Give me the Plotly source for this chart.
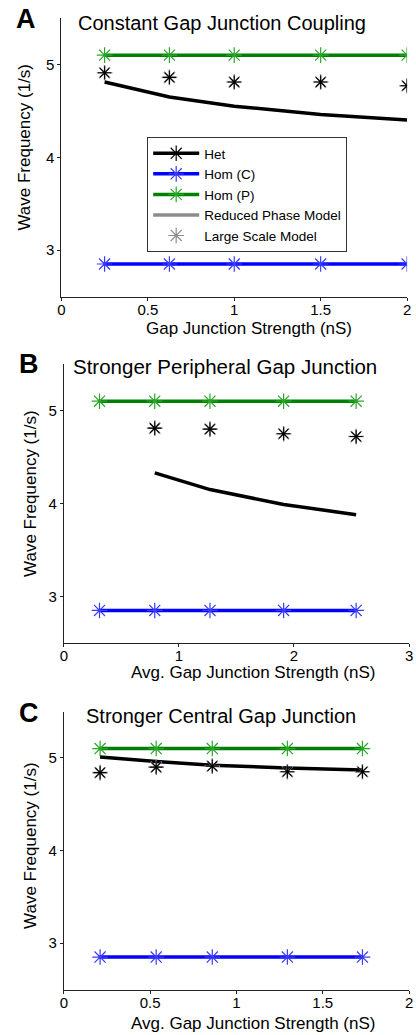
import plotly.graph_objects as go

# ---------------- data ----------------
# Panel A: constant gap junction coupling
xA = [0.25, 0.625, 1.0, 1.5, 2.0]
homC_A = [2.85, 2.85, 2.85, 2.85, 2.85]
homP_A = [5.10, 5.10, 5.10, 5.10, 5.10]
hetRed_A = [4.81, 4.65, 4.55, 4.46, 4.40]
hetLarge_A = [4.91, 4.86, 4.81, 4.81, 4.77]

# Panel B: stronger peripheral gap junction
xB = [0.31, 0.79, 1.27, 1.91, 2.54]
homC_B = [2.85, 2.85, 2.85, 2.85, 2.85]
homP_B = [5.10, 5.10, 5.10, 5.10, 5.10]
xB_het = [0.79, 1.27, 1.91, 2.54]
hetRed_B = [4.33, 4.15, 3.99, 3.88]
hetLarge_B = [4.81, 4.80, 4.75, 4.72]

# Panel C: stronger central gap junction
xC = [0.21, 0.535, 0.86, 1.295, 1.73]
homC_C = [2.85, 2.85, 2.85, 2.85, 2.85]
homP_C = [5.10, 5.10, 5.10, 5.10, 5.10]
hetRed_C = [5.01, 4.96, 4.92, 4.89, 4.87]
hetLarge_C = [4.84, 4.90, 4.91, 4.85, 4.85]

xticksA = [0, 0.5, 1, 1.5, 2]
xticksB = [0, 1, 2, 3]
xticksC = [0, 0.5, 1, 1.5, 2]
yticks = [3, 4, 5]

titles = ["Constant Gap Junction Coupling",
          "Stronger Peripheral Gap Junction",
          "Stronger Central Gap Junction"]
letters = ["A", "B", "C"]
xlabels = ["Gap Junction Strength (nS)",
           "Avg. Gap Junction Strength (nS)",
           "Avg. Gap Junction Strength (nS)"]
ylabel = "Wave Frequency (1/s)"
legend_names = ["Het", "Hom (C)", "Hom (P)", "Reduced Phase Model", "Large Scale Model"]

# ---------------- style ----------------
W, H = 416, 1035
FONT = "Liberation Sans, Arial, Helvetica, sans-serif"
BLUE, BLUE_M = "#0000ff", "#3a3aff"
GREEN, GREEN_M = "#008000", "#2aa52a"
BLACK = "#000000"
GREY = "#8c8c8c"
LW = 3.5
MS = 13


def px2x(p):
    return p / W


def px2y(p):
    return 1 - p / H


def star(color, size=MS, width=1.2):
    return dict(symbol="asterisk-open", size=size, color=color, line=dict(color=color, width=width))


fig = go.Figure()

panels = [
    dict(xa="x", ya="y", x=xA, homC=homC_A, homP=homP_A, xh=xA, red=hetRed_A, large=hetLarge_A),
    dict(xa="x2", ya="y2", x=xB, homC=homC_B, homP=homP_B, xh=xB_het, red=hetRed_B, large=hetLarge_B),
    dict(xa="x3", ya="y3", x=xC, homC=homC_C, homP=homP_C, xh=xC, red=hetRed_C, large=hetLarge_C),
]

for p in panels:
    # Hom (P)
    fig.add_trace(go.Scatter(x=p["x"], y=p["homP"], xaxis=p["xa"], yaxis=p["ya"], mode="lines",
                             line=dict(color=GREEN, width=LW), showlegend=False, hoverinfo="skip"))
    fig.add_trace(go.Scatter(x=p["x"], y=p["homP"], xaxis=p["xa"], yaxis=p["ya"], mode="markers",
                             marker=star(GREEN_M), showlegend=False))
    # Hom (C)
    fig.add_trace(go.Scatter(x=p["x"], y=p["homC"], xaxis=p["xa"], yaxis=p["ya"], mode="lines",
                             line=dict(color=BLUE, width=LW), showlegend=False, hoverinfo="skip"))
    fig.add_trace(go.Scatter(x=p["x"], y=p["homC"], xaxis=p["xa"], yaxis=p["ya"], mode="markers",
                             marker=star(BLUE_M), showlegend=False))
    # Het reduced phase model
    fig.add_trace(go.Scatter(x=p["xh"], y=p["red"], xaxis=p["xa"], yaxis=p["ya"], mode="lines",
                             line=dict(color=BLACK, width=LW), showlegend=False))
    # Het large scale model
    fig.add_trace(go.Scatter(x=p["xh"], y=p["large"], xaxis=p["xa"], yaxis=p["ya"], mode="markers",
                             marker=star(GREY, MS, 1.6), showlegend=False, hoverinfo="skip"))
    fig.add_trace(go.Scatter(x=p["xh"], y=p["large"], xaxis=p["xa"], yaxis=p["ya"], mode="markers",
                             marker=star(BLACK, MS - 2, 1.1), showlegend=False))

# legend entries (legend-only traces)
leg_styles = [
    dict(mode="lines+markers", line=dict(color=BLACK, width=LW), marker=star(BLACK)),
    dict(mode="lines+markers", line=dict(color=BLUE, width=LW), marker=star(BLUE_M)),
    dict(mode="lines+markers", line=dict(color=GREEN, width=LW), marker=star(GREEN_M)),
    dict(mode="lines", line=dict(color=GREY, width=LW)),
    dict(mode="markers", marker=star(GREY)),
]
for name, st in zip(legend_names, leg_styles):
    fig.add_trace(go.Scatter(x=[None], y=[None], name=name, showlegend=True, **st))

# ---------------- axes ----------------
axis_common = dict(showline=True, linecolor="#222222", linewidth=1, ticks="outside", ticklen=3,
                   tickcolor="#222222", showgrid=False, zeroline=False,
                   tickfont=dict(family=FONT, size=15, color="#000"))

# pixel boxes: (left, right, top, bottom)
boxes = [(58.5, 411, 18, 296.5), (61, 413, 364, 643), (61, 413, 711.5, 989.5)]
xranges = [[0, 2], [0, 3], [0, 2]]
xtickvals = [xticksA, xticksB, xticksC]

layout = dict(width=W, height=H, margin=dict(l=0, r=0, t=0, b=0),
              paper_bgcolor="white", plot_bgcolor="white",
              font=dict(family=FONT, color="#000"))
for i, (bx, xr, xt) in enumerate(zip(boxes, xranges, xtickvals)):
    l, r, t, b = bx
    sfx = "" if i == 0 else str(i + 1)
    layout["xaxis" + sfx] = dict(domain=[px2x(l), px2x(r)], range=xr, tickvals=xt,
                                 ticktext=[("%g" % v) for v in xt], ticklabelstandoff=-4,
                                 anchor="y" + sfx, **axis_common)
    layout["yaxis" + sfx] = dict(domain=[px2y(b), px2y(t)], range=[2.5, 5.5], tickvals=yticks,
                                 anchor="x" + sfx, **axis_common)

layout["legend"] = dict(x=px2x(146), y=px2y(137), xanchor="left", yanchor="top",
                        bgcolor="white", bordercolor="#333333", borderwidth=1,
                        font=dict(family=FONT, size=13.5, color="#000"),
                        itemwidth=46, tracegroupgap=0)
fig.update_layout(**layout)

# ---------------- text ----------------
ann = []
title_pos = [(73, 23.5), (68, 366), (82, 716)]
title_sizes = [20, 20.5, 20]
letter_pos = [(10, 19), (13, 364), (13, 712.5)]
xlab_pos = [(250, 328), (254, 672), (254, 1023)]
ylab_pos = [(20.5, 147.5), (27.5, 493), (26.5, 845)]
for i in range(3):
    ann.append(dict(text=titles[i], x=px2x(title_pos[i][0]), y=px2y(title_pos[i][1]),
                    xref="paper", yref="paper", xanchor="left", yanchor="middle", showarrow=False,
                    font=dict(family=FONT, size=title_sizes[i], color="#000")))
    ann.append(dict(text="<b>%s</b>" % letters[i], x=px2x(letter_pos[i][0]), y=px2y(letter_pos[i][1]),
                    xref="paper", yref="paper", xanchor="left", yanchor="middle", showarrow=False,
                    font=dict(family=FONT, size=27, color="#000")))
    ann.append(dict(text=xlabels[i], x=px2x(xlab_pos[i][0]), y=px2y(xlab_pos[i][1]),
                    xref="paper", yref="paper", xanchor="center", yanchor="middle", showarrow=False,
                    font=dict(family=FONT, size=17, color="#000")))
    ann.append(dict(text=ylabel, x=px2x(ylab_pos[i][0]), y=px2y(ylab_pos[i][1]), textangle=-90,
                    xref="paper", yref="paper", xanchor="center", yanchor="middle", showarrow=False,
                    font=dict(family=FONT, size=17, color="#000")))
fig.update_layout(annotations=ann)

fig.write_html("out.html")
